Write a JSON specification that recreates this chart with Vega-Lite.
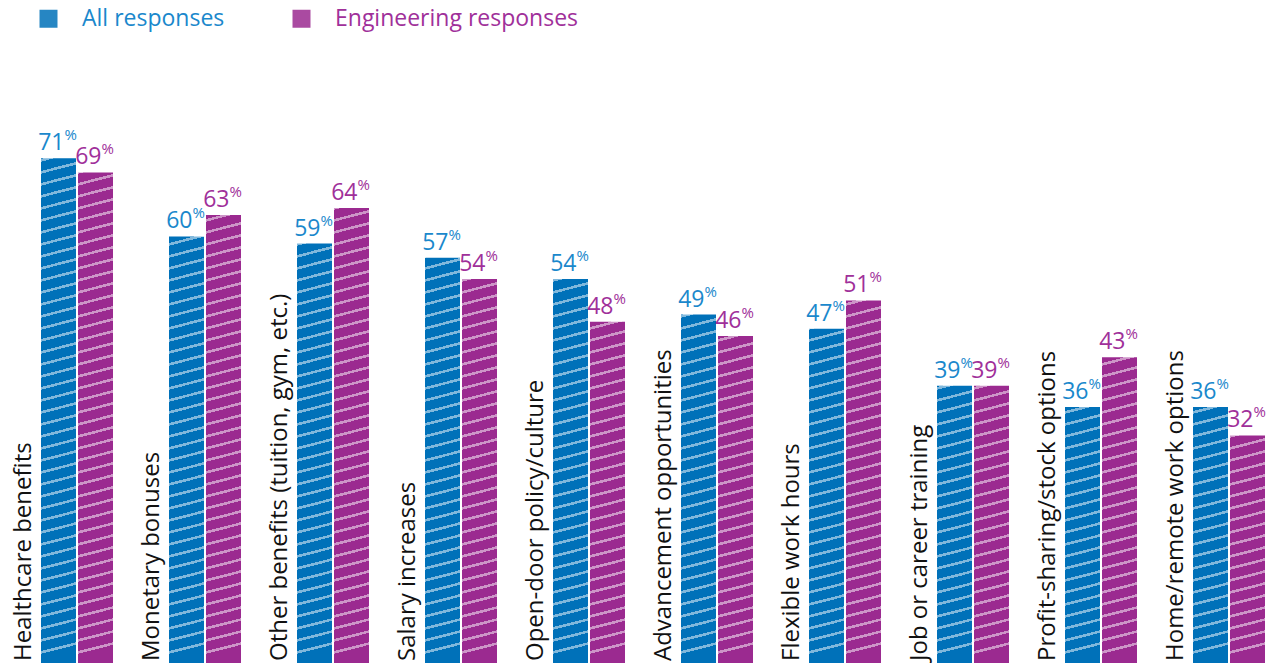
{
"$schema":"https://vega.github.io/schema/vega-lite/v6.json",
"width":1274,"height":663,"autosize":{"type":"none"},
"padding":{"left":0,"top":0,"right":0,"bottom":5},
"background":"white",
"config":{"view":{"stroke":null},"font":"Open Sans"},
"data":{"values":[
{"cat":"Healthcare benefits","series":"All responses","value":71},
{"cat":"Healthcare benefits","series":"Engineering responses","value":69},
{"cat":"Monetary bonuses","series":"All responses","value":60},
{"cat":"Monetary bonuses","series":"Engineering responses","value":63},
{"cat":"Other benefits (tuition, gym, etc.)","series":"All responses","value":59},
{"cat":"Other benefits (tuition, gym, etc.)","series":"Engineering responses","value":64},
{"cat":"Salary increases","series":"All responses","value":57},
{"cat":"Salary increases","series":"Engineering responses","value":54},
{"cat":"Open-door policy/culture","series":"All responses","value":54},
{"cat":"Open-door policy/culture","series":"Engineering responses","value":48},
{"cat":"Advancement opportunities","series":"All responses","value":49},
{"cat":"Advancement opportunities","series":"Engineering responses","value":46},
{"cat":"Flexible work hours","series":"All responses","value":47},
{"cat":"Flexible work hours","series":"Engineering responses","value":51},
{"cat":"Job or career training","series":"All responses","value":39},
{"cat":"Job or career training","series":"Engineering responses","value":39},
{"cat":"Profit-sharing/stock options","series":"All responses","value":36},
{"cat":"Profit-sharing/stock options","series":"Engineering responses","value":43},
{"cat":"Home/remote work options","series":"All responses","value":36},
{"cat":"Home/remote work options","series":"Engineering responses","value":32}
]},
"encoding":{
"x":{"field":"cat","type":"nominal","sort":null,"scale":{"range":[41,1265],"paddingInner":0.4375,"paddingOuter":0},"axis":null}
},
"layer":[
{"mark":{"type":"bar"},
 "encoding":{
  "xOffset":{"field":"series","type":"nominal","sort":null,"scale":{"paddingInner":0.054,"paddingOuter":0}},
  "y":{"field":"value","type":"quantitative","scale":{"domain":[0,93.25],"nice":false,"zero":true},"axis":null},
  "color":{"field":"series","type":"nominal","sort":null,
   "scale":{"domain":["All responses","Engineering responses"],"range":["#0071b9","#9b2a90"]},
   "legend":{"orient":"none","legendX":37,"legendY":7,"direction":"horizontal","title":null,"symbolType":"square","symbolSize":324,"symbolStrokeWidth":0,"symbolOpacity":0.85,"labelFontSize":23,"labelFont":"Open Sans","labelOffset":22,"labelLimit":0,"columnPadding":65,"padding":0,
   "labelColor":{"expr":"datum.label === 'All responses' ? '#1a88cc' : '#a0309a'"}}}
 }},
{"mark":{"type":"bar","stroke":null,"fill":{"gradient":"linear","x1":0,"y1":0,"x2":0.015,"y2":1,"stops":[
{"offset":0,"color":"#ffffff80"},{"offset":0.0045,"color":"#ffffff80"},{"offset":0.0045,"color":"#ffffff00"},{"offset":0.02,"color":"#ffffff00"},
{"offset":0.02,"color":"#ffffff80"},{"offset":0.0245,"color":"#ffffff80"},{"offset":0.0245,"color":"#ffffff00"},{"offset":0.04,"color":"#ffffff00"},
{"offset":0.04,"color":"#ffffff80"},{"offset":0.0445,"color":"#ffffff80"},{"offset":0.0445,"color":"#ffffff00"},{"offset":0.06,"color":"#ffffff00"},
{"offset":0.06,"color":"#ffffff80"},{"offset":0.0645,"color":"#ffffff80"},{"offset":0.0645,"color":"#ffffff00"},{"offset":0.08,"color":"#ffffff00"},
{"offset":0.08,"color":"#ffffff80"},{"offset":0.0845,"color":"#ffffff80"},{"offset":0.0845,"color":"#ffffff00"},{"offset":0.1,"color":"#ffffff00"},
{"offset":0.1,"color":"#ffffff80"},{"offset":0.1045,"color":"#ffffff80"},{"offset":0.1045,"color":"#ffffff00"},{"offset":0.12,"color":"#ffffff00"},
{"offset":0.12,"color":"#ffffff80"},{"offset":0.1245,"color":"#ffffff80"},{"offset":0.1245,"color":"#ffffff00"},{"offset":0.14,"color":"#ffffff00"},
{"offset":0.14,"color":"#ffffff80"},{"offset":0.1445,"color":"#ffffff80"},{"offset":0.1445,"color":"#ffffff00"},{"offset":0.16,"color":"#ffffff00"},
{"offset":0.16,"color":"#ffffff80"},{"offset":0.1645,"color":"#ffffff80"},{"offset":0.1645,"color":"#ffffff00"},{"offset":0.18,"color":"#ffffff00"},
{"offset":0.18,"color":"#ffffff80"},{"offset":0.1845,"color":"#ffffff80"},{"offset":0.1845,"color":"#ffffff00"},{"offset":0.2,"color":"#ffffff00"},
{"offset":0.2,"color":"#ffffff80"},{"offset":0.2045,"color":"#ffffff80"},{"offset":0.2045,"color":"#ffffff00"},{"offset":0.22,"color":"#ffffff00"},
{"offset":0.22,"color":"#ffffff80"},{"offset":0.2245,"color":"#ffffff80"},{"offset":0.2245,"color":"#ffffff00"},{"offset":0.24,"color":"#ffffff00"},
{"offset":0.24,"color":"#ffffff80"},{"offset":0.2445,"color":"#ffffff80"},{"offset":0.2445,"color":"#ffffff00"},{"offset":0.26,"color":"#ffffff00"},
{"offset":0.26,"color":"#ffffff80"},{"offset":0.2645,"color":"#ffffff80"},{"offset":0.2645,"color":"#ffffff00"},{"offset":0.28,"color":"#ffffff00"},
{"offset":0.28,"color":"#ffffff80"},{"offset":0.2845,"color":"#ffffff80"},{"offset":0.2845,"color":"#ffffff00"},{"offset":0.3,"color":"#ffffff00"},
{"offset":0.3,"color":"#ffffff80"},{"offset":0.3045,"color":"#ffffff80"},{"offset":0.3045,"color":"#ffffff00"},{"offset":0.32,"color":"#ffffff00"},
{"offset":0.32,"color":"#ffffff80"},{"offset":0.3245,"color":"#ffffff80"},{"offset":0.3245,"color":"#ffffff00"},{"offset":0.34,"color":"#ffffff00"},
{"offset":0.34,"color":"#ffffff80"},{"offset":0.3445,"color":"#ffffff80"},{"offset":0.3445,"color":"#ffffff00"},{"offset":0.36,"color":"#ffffff00"},
{"offset":0.36,"color":"#ffffff80"},{"offset":0.3645,"color":"#ffffff80"},{"offset":0.3645,"color":"#ffffff00"},{"offset":0.38,"color":"#ffffff00"},
{"offset":0.38,"color":"#ffffff80"},{"offset":0.3845,"color":"#ffffff80"},{"offset":0.3845,"color":"#ffffff00"},{"offset":0.4,"color":"#ffffff00"},
{"offset":0.4,"color":"#ffffff80"},{"offset":0.4045,"color":"#ffffff80"},{"offset":0.4045,"color":"#ffffff00"},{"offset":0.42,"color":"#ffffff00"},
{"offset":0.42,"color":"#ffffff80"},{"offset":0.4245,"color":"#ffffff80"},{"offset":0.4245,"color":"#ffffff00"},{"offset":0.44,"color":"#ffffff00"},
{"offset":0.44,"color":"#ffffff80"},{"offset":0.4445,"color":"#ffffff80"},{"offset":0.4445,"color":"#ffffff00"},{"offset":0.46,"color":"#ffffff00"},
{"offset":0.46,"color":"#ffffff80"},{"offset":0.4645,"color":"#ffffff80"},{"offset":0.4645,"color":"#ffffff00"},{"offset":0.48,"color":"#ffffff00"},
{"offset":0.48,"color":"#ffffff80"},{"offset":0.4845,"color":"#ffffff80"},{"offset":0.4845,"color":"#ffffff00"},{"offset":0.5,"color":"#ffffff00"},
{"offset":0.5,"color":"#ffffff80"},{"offset":0.5045,"color":"#ffffff80"},{"offset":0.5045,"color":"#ffffff00"},{"offset":0.52,"color":"#ffffff00"},
{"offset":0.52,"color":"#ffffff80"},{"offset":0.5245,"color":"#ffffff80"},{"offset":0.5245,"color":"#ffffff00"},{"offset":0.54,"color":"#ffffff00"},
{"offset":0.54,"color":"#ffffff80"},{"offset":0.5445,"color":"#ffffff80"},{"offset":0.5445,"color":"#ffffff00"},{"offset":0.56,"color":"#ffffff00"},
{"offset":0.56,"color":"#ffffff80"},{"offset":0.5645,"color":"#ffffff80"},{"offset":0.5645,"color":"#ffffff00"},{"offset":0.58,"color":"#ffffff00"},
{"offset":0.58,"color":"#ffffff80"},{"offset":0.5845,"color":"#ffffff80"},{"offset":0.5845,"color":"#ffffff00"},{"offset":0.6,"color":"#ffffff00"},
{"offset":0.6,"color":"#ffffff80"},{"offset":0.6045,"color":"#ffffff80"},{"offset":0.6045,"color":"#ffffff00"},{"offset":0.62,"color":"#ffffff00"},
{"offset":0.62,"color":"#ffffff80"},{"offset":0.6245,"color":"#ffffff80"},{"offset":0.6245,"color":"#ffffff00"},{"offset":0.64,"color":"#ffffff00"},
{"offset":0.64,"color":"#ffffff80"},{"offset":0.6445,"color":"#ffffff80"},{"offset":0.6445,"color":"#ffffff00"},{"offset":0.66,"color":"#ffffff00"},
{"offset":0.66,"color":"#ffffff80"},{"offset":0.6645,"color":"#ffffff80"},{"offset":0.6645,"color":"#ffffff00"},{"offset":0.68,"color":"#ffffff00"},
{"offset":0.68,"color":"#ffffff80"},{"offset":0.6845,"color":"#ffffff80"},{"offset":0.6845,"color":"#ffffff00"},{"offset":0.7,"color":"#ffffff00"},
{"offset":0.7,"color":"#ffffff80"},{"offset":0.7045,"color":"#ffffff80"},{"offset":0.7045,"color":"#ffffff00"},{"offset":0.72,"color":"#ffffff00"},
{"offset":0.72,"color":"#ffffff80"},{"offset":0.7245,"color":"#ffffff80"},{"offset":0.7245,"color":"#ffffff00"},{"offset":0.74,"color":"#ffffff00"},
{"offset":0.74,"color":"#ffffff80"},{"offset":0.7445,"color":"#ffffff80"},{"offset":0.7445,"color":"#ffffff00"},{"offset":0.76,"color":"#ffffff00"},
{"offset":0.76,"color":"#ffffff80"},{"offset":0.7645,"color":"#ffffff80"},{"offset":0.7645,"color":"#ffffff00"},{"offset":0.78,"color":"#ffffff00"},
{"offset":0.78,"color":"#ffffff80"},{"offset":0.7845,"color":"#ffffff80"},{"offset":0.7845,"color":"#ffffff00"},{"offset":0.8,"color":"#ffffff00"},
{"offset":0.8,"color":"#ffffff80"},{"offset":0.8045,"color":"#ffffff80"},{"offset":0.8045,"color":"#ffffff00"},{"offset":0.82,"color":"#ffffff00"},
{"offset":0.82,"color":"#ffffff80"},{"offset":0.8245,"color":"#ffffff80"},{"offset":0.8245,"color":"#ffffff00"},{"offset":0.84,"color":"#ffffff00"},
{"offset":0.84,"color":"#ffffff80"},{"offset":0.8445,"color":"#ffffff80"},{"offset":0.8445,"color":"#ffffff00"},{"offset":0.86,"color":"#ffffff00"},
{"offset":0.86,"color":"#ffffff80"},{"offset":0.8645,"color":"#ffffff80"},{"offset":0.8645,"color":"#ffffff00"},{"offset":0.88,"color":"#ffffff00"},
{"offset":0.88,"color":"#ffffff80"},{"offset":0.8845,"color":"#ffffff80"},{"offset":0.8845,"color":"#ffffff00"},{"offset":0.9,"color":"#ffffff00"},
{"offset":0.9,"color":"#ffffff80"},{"offset":0.9045,"color":"#ffffff80"},{"offset":0.9045,"color":"#ffffff00"},{"offset":0.92,"color":"#ffffff00"},
{"offset":0.92,"color":"#ffffff80"},{"offset":0.9245,"color":"#ffffff80"},{"offset":0.9245,"color":"#ffffff00"},{"offset":0.94,"color":"#ffffff00"},
{"offset":0.94,"color":"#ffffff80"},{"offset":0.9445,"color":"#ffffff80"},{"offset":0.9445,"color":"#ffffff00"},{"offset":0.96,"color":"#ffffff00"},
{"offset":0.96,"color":"#ffffff80"},{"offset":0.9645,"color":"#ffffff80"},{"offset":0.9645,"color":"#ffffff00"},{"offset":0.98,"color":"#ffffff00"},
{"offset":0.98,"color":"#ffffff80"},{"offset":0.9845,"color":"#ffffff80"},{"offset":0.9845,"color":"#ffffff00"},{"offset":1,"color":"#ffffff00"}
]}},
 "encoding":{
  "xOffset":{"field":"series","type":"nominal","sort":null,"scale":{"paddingInner":0.054,"paddingOuter":0}},
  "y":{"datum":84.4,"type":"quantitative"}
 }},
{"mark":{"type":"text","align":"right","baseline":"alphabetic","dx":6,"dy":-8,"fontSize":23,"font":"Open Sans"},
 "encoding":{
  "xOffset":{"field":"series","type":"nominal","sort":null,"scale":{"paddingInner":0.054,"paddingOuter":0}},
  "y":{"field":"value","type":"quantitative"},
  "text":{"field":"value","type":"quantitative"},
  "color":{"condition":{"test":"datum.series === 'All responses'","value":"#1a88cc"},"value":"#a0309a"}
 }},
{"mark":{"type":"text","align":"left","baseline":"alphabetic","dx":6,"dy":-18,"fontSize":15,"font":"Open Sans"},
 "encoding":{
  "xOffset":{"field":"series","type":"nominal","sort":null,"scale":{"paddingInner":0.054,"paddingOuter":0}},
  "y":{"field":"value","type":"quantitative"},
  "text":{"value":"%"},
  "color":{"condition":{"test":"datum.series === 'All responses'","value":"#1a88cc"},"value":"#a0309a"}
 }},
{"transform":[{"filter":"datum.series === 'All responses'"}],
 "mark":{"type":"text","angle":270,"align":"left","baseline":"alphabetic","dx":2,"dy":-46,"fontSize":24,"font":"Open Sans","color":"#111111"},
 "encoding":{
  "y":{"datum":0,"type":"quantitative"},
  "text":{"field":"cat","type":"nominal"}
 }}
]
}
